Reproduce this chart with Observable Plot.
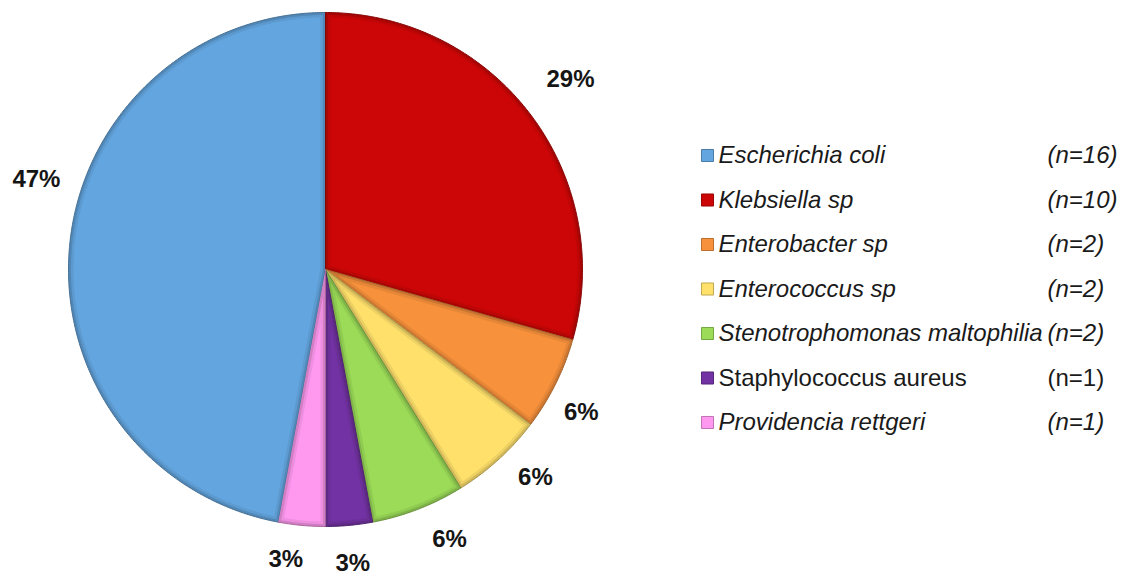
<!DOCTYPE html>
<html><head><meta charset="utf-8">
<script src="https://cdn.jsdelivr.net/npm/d3@7"></script>
<script src="https://cdn.jsdelivr.net/npm/@observablehq/plot@0.6"></script>
<style>body{margin:0;background:#fff;}</style>
</head><body><div id="chart"></div>
<script>
// ---- data ----
const species = ["Escherichia coli", "Klebsiella sp", "Enterobacter sp", "Enterococcus sp",
  "Stenotrophomonas maltophilia", "Staphylococcus aureus", "Providencia rettgeri"];
const counts = [16, 10, 2, 2, 2, 1, 1];
const percentLabels = ["47%", "29%", "6%", "6%", "6%", "3%", "3%"];
const countLabels = ["(n=16)", "(n=10)", "(n=2)", "(n=2)", "(n=2)", "(n=1)", "(n=1)"];
const italicName = [true, true, true, true, true, false, true];
const colors = ["#63a5df", "#cc0606", "#f7913c", "#ffe06b", "#9bdb57", "#7332a3", "#ff99f0"];

// ---- layout ----
const W = 1124, H = 578, CX = 325, CY = 269, R = 257;
const ux = px => (px - CX) / R;
const uy = py => (CY - py) / R;
const FONT = "Liberation Sans, Arial, sans-serif";
// label placement tweaks (Excel spreads outside-end labels): [angle shift in degrees, radius factor]
const labelPlacement = {
  "Escherichia coli": [12, 1.178],
  "Klebsiella sp": [-0.7, 1.206],
  "Enterobacter sp": [2.7, 1.14],
  "Enterococcus sp": [-2.9, 1.15],
  "Stenotrophomonas maltophilia": [-3.5, 1.156],
  "Staphylococcus aureus": [0, 1.15],
  "Providencia rettgeri": [2.5, 1.14]
};

const total = d3.sum(counts);
const start = -2 * Math.PI * counts[0] / total;
const arcs = d3.pie().sort(null).startAngle(start).endAngle(start + 2 * Math.PI)(counts);

function wedge(a0, a1, insetPx) {
  const d = insetPx / R;
  const pts = [];
  let r = 1, b0 = a0, b1 = a1;
  if (d > 0) {
    const h = (a1 - a0) / 2, mid = (a0 + a1) / 2;
    const ad = d / Math.sin(Math.min(h, Math.PI / 2));
    pts.push({x: ad * Math.sin(mid), y: ad * Math.cos(mid)});
    r = 1 - d;
    const del = Math.asin(d / r);
    b0 = a0 + del; b1 = a1 - del;
  } else {
    pts.push({x: 0, y: 0});
  }
  const n = Math.max(2, Math.ceil((b1 - b0) / (0.4 * Math.PI / 180)));
  for (let k = 0; k <= n; k++) {
    const a = b0 + (b1 - b0) * k / n;
    pts.push({x: r * Math.sin(a), y: r * Math.cos(a)});
  }
  return pts;
}

const sliceMarks = [];
arcs.forEach((a, i) => {
  const c = d3.color(colors[i]);
  sliceMarks.push(Plot.line(wedge(a.startAngle, a.endAngle, 0), {
    x: "x", y: "y", fill: c.darker(0.55).formatHex(), stroke: c.darker(1.2).formatHex(), strokeWidth: 1, curve: "linear"}));
  sliceMarks.push(Plot.line(wedge(a.startAngle, a.endAngle, 2.5), {
    x: "x", y: "y", fill: c.darker(0.2).formatHex(), curve: "linear"}));
  sliceMarks.push(Plot.line(wedge(a.startAngle, a.endAngle, 5), {
    x: "x", y: "y", fill: colors[i], curve: "linear"}));
});

const labels = arcs.map((a, i) => {
  const [shift, rad] = labelPlacement[species[i]];
  const m = (a.startAngle + a.endAngle) / 2 + shift * Math.PI / 180;
  return {x: rad * Math.sin(m), y: rad * Math.cos(m), t: percentLabels[i]};
});

const legendRows = species.map((s, i) => ({
  name: s, italic: italicName[i], count: countLabels[i], color: colors[i],
  edge: d3.color(colors[i]).darker(0.8).formatHex(),
  y: uy(155 + 44.5 * i)
}));

const chart = Plot.plot({
  width: W, height: H, margin: 0,
  x: {domain: [ux(0), ux(W)], range: [0, W], axis: null},
  y: {domain: [uy(H), uy(0)], range: [H, 0], axis: null},
  style: {fontFamily: FONT, background: "#fff"},
  marks: [
    ...sliceMarks,
    Plot.text(labels, {x: "x", y: "y", text: "t", fontSize: 24, fontWeight: "bold", fill: "#151515", fontFamily: FONT}),
    Plot.dot(legendRows, {x: ux(707), y: "y", symbol: "square", r: 6.8, fill: "color", stroke: "edge", strokeWidth: 1}),
    Plot.text(legendRows.filter(d => d.italic), {x: ux(718), y: "y", text: "name", textAnchor: "start", fontSize: 24, fontStyle: "italic", fill: "#1a1a1a", fontFamily: FONT}),
    Plot.text(legendRows.filter(d => !d.italic), {x: ux(718), y: "y", text: "name", textAnchor: "start", fontSize: 24, fill: "#1a1a1a", fontFamily: FONT}),
    Plot.text(legendRows.filter(d => d.italic), {x: ux(1047), y: "y", text: "count", textAnchor: "start", fontSize: 24, fontStyle: "italic", fill: "#1a1a1a", fontFamily: FONT}),
    Plot.text(legendRows.filter(d => !d.italic), {x: ux(1047), y: "y", text: "count", textAnchor: "start", fontSize: 24, fill: "#1a1a1a", fontFamily: FONT})
  ]
});
document.getElementById("chart").appendChild(chart);
</script>
</body></html>
